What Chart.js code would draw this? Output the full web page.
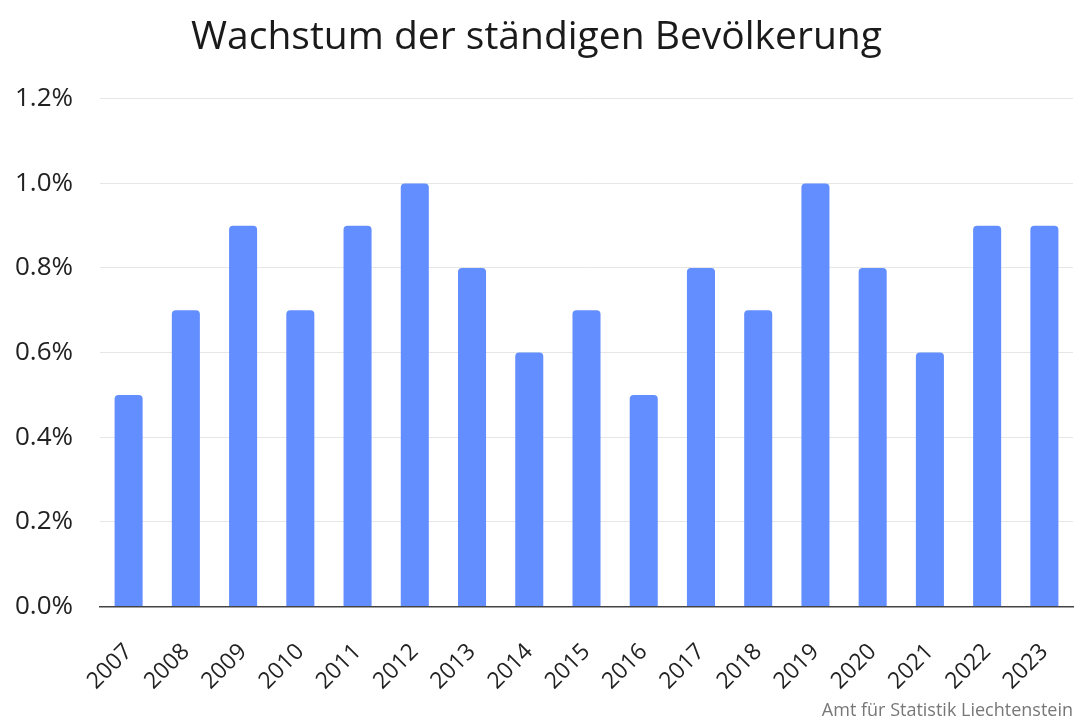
<!DOCTYPE html>
<html>
<head>
<meta charset="utf-8">
<script src="https://cdn.jsdelivr.net/npm/chart.js@4"></script>
<style>
html,body{margin:0;padding:0;background:#fff;}
#wrap{width:1081px;height:722px;}
</style>
</head>
<body>
<div id="wrap"><canvas id="c" width="1081" height="722"></canvas></div>
<script>
const categories = ["2007","2008","2009","2010","2011","2012","2013","2014","2015","2016","2017","2018","2019","2020","2021","2022","2023"];
const growth = [0.5,0.7,0.9,0.7,0.9,1.0,0.8,0.6,0.7,0.5,0.8,0.7,1.0,0.8,0.6,0.9,0.9];
const yTicks = [0,0.2,0.4,0.6,0.8,1.0,1.2];
const titleText = "Wachstum der ständigen Bevölkerung";
const sourceText = "Amt für Statistik Liechtenstein";

const FONT = "'Open Sans', sans-serif";

new Chart(document.getElementById('c'), {
  type: 'bar',
  data: {
    labels: categories,
    datasets: [{
      data: growth,
      backgroundColor: '#638eff',
      borderRadius: {topLeft: 4, topRight: 4},
      borderSkipped: 'bottom',
      barPercentage: 0.49,
      categoryPercentage: 1.0
    }]
  },
  options: {
    responsive: false,
    animation: false,
    devicePixelRatio: 1,
    layout: {padding: {left: 0, right: 8, top: 8, bottom: 0}},
    plugins: {
      legend: {display: false},
      tooltip: {enabled: false},
      title: {
        display: true,
        text: titleText,
        color: '#1a1a1a',
        font: {family: FONT, size: 39, weight: '500'},
        padding: {top: 6, bottom: 38}
      },
      subtitle: {
        display: true,
        text: sourceText,
        position: 'bottom',
        align: 'end',
        color: '#777',
        font: {family: FONT, size: 18},
        padding: {top: 0, bottom: 0}
      }
    },
    scales: {
      x: {
        afterFit: (s) => { s.height = 94; s.paddingRight = 0; s.paddingLeft = 0; },
        grid: {display: false, drawTicks: false},
        border: {display: true, color: '#444', width: 1.5},
        ticks: {
          color: '#222',
          font: {family: FONT, size: 23},
          maxRotation: 45, minRotation: 45,
          padding: 32
        }
      },
      y: {
        min: 0, max: 1.2,
        afterBuildTicks: (s) => { s.ticks = yTicks.map(v => ({value: v})); },
        afterFit: (s) => { s.width = 100; },
        grid: {color: '#e6e6e6', drawTicks: false, lineWidth: 1},
        border: {display: false},
        ticks: {
          color: '#222',
          font: {family: FONT, size: 26},
          padding: 27,
          callback: (v) => v.toFixed(1) + '%'
        }
      }
    }
  }
});
</script>
</body>
</html>
